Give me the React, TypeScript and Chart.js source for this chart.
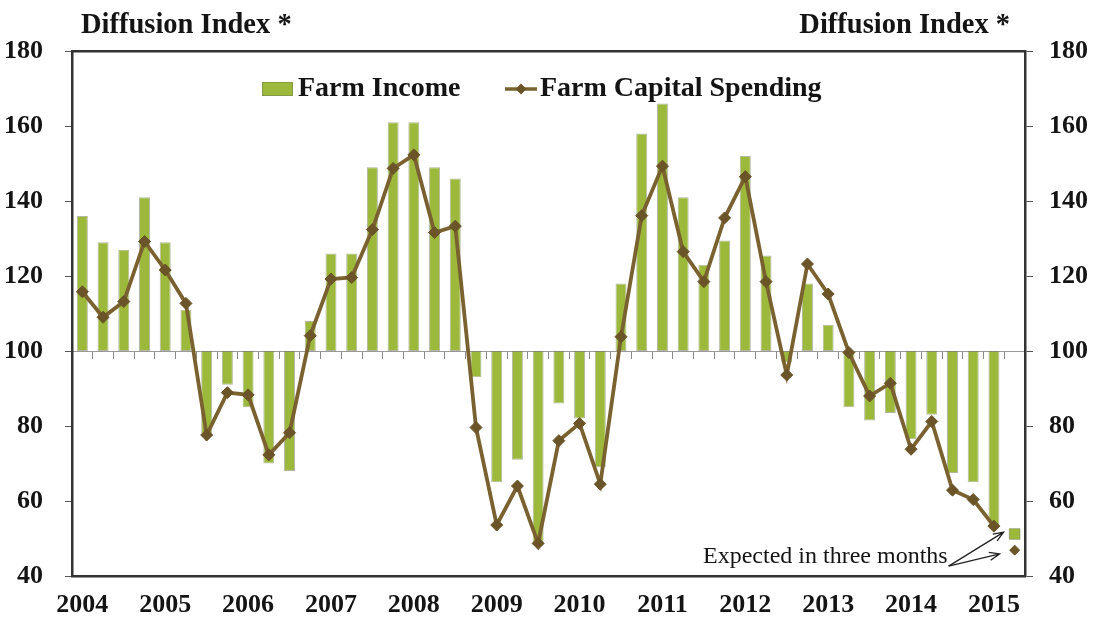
import React, { useEffect, useRef } from "react";
import { Chart, registerables } from "chart.js";

Chart.register(...registerables);

// ---- data ----
const years = ["2004", "2005", "2006", "2007", "2008", "2009", "2010", "2011", "2012", "2013", "2014", "2015"];
const quarters = ["Q1", "Q2", "Q3", "Q4"];
const expectedLabel = "Expected";

// Farm income diffusion index, 2004 Q1 .. 2015 Q1
const farmIncome = [
  136, 129, 127, 141,
  129, 111, 78, 91,
  85, 70, 68, 108,
  126, 126, 149, 161,
  161, 149, 146, 93,
  65, 71, 49, 86,
  82, 69, 118, 158,
  166, 141, 123, 129.5,
  152, 125.5, 97, 118,
  107, 85, 81.5, 83.5,
  76.5, 83, 67.5, 65,
  53.5,
];

// Farm capital spending diffusion index, 2004 Q1 .. 2015 Q1
const farmCapital = [
  115.8, 109, 113.2, 129.2,
  121.6, 112.7, 77.6, 88.9,
  88.3, 72.3, 78.2, 104.1,
  119.2, 119.6, 132.4, 148.7,
  152.3, 131.6, 133.3, 79.6,
  53.6, 64, 48.7, 76.1,
  80.7, 64.5, 103.8, 136.1,
  149.3, 126.5, 118.5, 135.5,
  146.5, 118.5, 93.6, 123.2,
  115.2, 99.6, 88, 91.4,
  73.8, 81.2, 62.9, 60.4,
  53.3,
];

// expected in three months
const expectedIncome = 51.2;
const expectedCapital = 46.9;

const baseline = 100;
const yMin = 40;
const yMax = 180;
const yStep = 20;

const headerText = "Diffusion Index *";
const incomeName = "Farm Income";
const capitalName = "Farm Capital Spending";
const noteText = "Expected in three months";

// ---- styling ----
const GREEN = "#9cb93c";
const GREEN_EDGE = "rgba(115,125,80,0.55)";
const BROWN = "#7a6230";
const BROWN_DARK = "#6a5428";
const SERIF = "'Liberation Serif', 'Times New Roman', serif";
const INK = "#141414";

const labels: string[] = [];
years.forEach((y) => {
  quarters.forEach((q) => {
    if (labels.length < farmIncome.length) labels.push(`${y} ${q}`);
  });
});
labels.push(expectedLabel);

const n = labels.length;
const barData = labels.map((_, i) => (i < farmIncome.length ? [baseline, farmIncome[i]] : null));
const lineData = labels.map((_, i) => (i < farmCapital.length ? farmCapital[i] : null));
const expIncomeData = labels.map((_, i) => (i === n - 1 ? expectedIncome : null));
const expCapitalData = labels.map((_, i) => (i === n - 1 ? expectedCapital : null));

function drawDiamond(ctx: CanvasRenderingContext2D, x: number, y: number, r: number) {
  ctx.beginPath();
  ctx.moveTo(x, y - r);
  ctx.lineTo(x + r, y);
  ctx.lineTo(x, y + r);
  ctx.lineTo(x - r, y);
  ctx.closePath();
  ctx.fill();
}

function drawArrow(ctx: CanvasRenderingContext2D, x0: number, y0: number, x1: number, y1: number) {
  ctx.beginPath();
  ctx.moveTo(x0, y0);
  ctx.lineTo(x1, y1);
  const a = Math.atan2(y1 - y0, x1 - x0);
  const h = 11;
  const s = 0.38;
  ctx.moveTo(x1 - h * Math.cos(a - s), y1 - h * Math.sin(a - s));
  ctx.lineTo(x1, y1);
  ctx.lineTo(x1 - h * Math.cos(a + s), y1 - h * Math.sin(a + s));
  ctx.stroke();
}

const decorPlugin = {
  id: "decor",
  afterDraw(chart: any) {
    const ctx: CanvasRenderingContext2D = chart.ctx;
    const { left, right, top } = chart.chartArea;
    const xs = chart.scales.x;
    const ys = chart.scales.y;
    ctx.save();

    // headers
    ctx.fillStyle = INK;
    ctx.font = `bold 28.5px ${SERIF}`;
    ctx.textBaseline = "alphabetic";
    ctx.textAlign = "left";
    ctx.fillText(headerText, left + 9, 33);
    ctx.textAlign = "right";
    ctx.fillText(headerText, right - 15, 33);

    // legend
    const ly = top + 37;
    const bx = left + 190;
    ctx.fillStyle = GREEN;
    ctx.fillRect(bx, ly - 6, 31, 14);
    ctx.strokeStyle = GREEN_EDGE;
    ctx.lineWidth = 1;
    ctx.strokeRect(bx + 0.5, ly - 5.5, 30, 13);
    ctx.fillStyle = INK;
    ctx.font = `bold 28px ${SERIF}`;
    ctx.textAlign = "left";
    ctx.textBaseline = "alphabetic";
    ctx.fillText(incomeName, bx + 36, ly + 8);

    const lx = left + 433;
    ctx.strokeStyle = BROWN;
    ctx.lineWidth = 3.5;
    ctx.beginPath();
    ctx.moveTo(lx, ly + 1);
    ctx.lineTo(lx + 32, ly + 1);
    ctx.stroke();
    ctx.fillStyle = BROWN_DARK;
    drawDiamond(ctx, lx + 16, ly + 1, 5.5);
    ctx.fillStyle = INK;
    ctx.fillText(capitalName, lx + 35, ly + 8);

    // annotation
    const xe = xs.getPixelForValue(n - 1);
    ctx.font = `24px ${SERIF}`;
    ctx.textAlign = "right";
    ctx.fillStyle = INK;
    ctx.fillText(noteText, xe - 67, ys.getPixelForValue(expectedCapital) + 13);
    ctx.strokeStyle = "#222";
    ctx.lineWidth = 1.3;
    const sx = xe - 66;
    const sy = ys.getPixelForValue(expectedCapital) + 16;
    drawArrow(ctx, sx, sy, xe - 11, ys.getPixelForValue(expectedIncome + 0.5));
    drawArrow(ctx, sx, sy, xe - 15, ys.getPixelForValue(expectedCapital - 1));

    ctx.restore();
  },
};

export default function App() {
  const ref = useRef<HTMLCanvasElement | null>(null);

  useEffect(() => {
    document.body.style.margin = "0";
    const canvas = ref.current;
    if (!canvas) return;
    const tickFont = { family: SERIF, size: 26, weight: "bold" as const };
    const chart = new Chart(canvas, {
      type: "bar",
      data: {
        labels,
        datasets: [
          {
            type: "line" as const,
            label: capitalName,
            data: lineData,
            borderColor: BROWN,
            borderWidth: 3.8,
            pointStyle: "rectRot",
            pointRadius: 6,
            pointBackgroundColor: BROWN_DARK,
            pointBorderColor: BROWN_DARK,
            pointBorderWidth: 1,
            tension: 0,
            spanGaps: false,
            order: 0,
          },
          {
            type: "line" as const,
            label: "Expected capital",
            data: expCapitalData,
            showLine: false,
            pointStyle: "rectRot",
            pointRadius: 5,
            pointBackgroundColor: BROWN_DARK,
            pointBorderColor: BROWN_DARK,
            order: 0,
          },
          {
            type: "line" as const,
            label: "Expected income",
            data: expIncomeData,
            showLine: false,
            pointStyle: "rect",
            pointRadius: 7.5,
            pointBackgroundColor: GREEN,
            pointBorderColor: GREEN_EDGE,
            pointBorderWidth: 1,
            order: 0,
          },
          {
            type: "bar" as const,
            label: incomeName,
            data: barData as any,
            backgroundColor: GREEN,
            borderColor: GREEN_EDGE,
            borderWidth: 1,
            borderSkipped: false,
            barPercentage: 0.53,
            categoryPercentage: 1,
            order: 1,
          },
        ],
      },
      options: {
        responsive: false,
        animation: false,
        layout: { padding: 0 },
        plugins: {
          legend: { display: false },
          tooltip: { enabled: false },
          title: { display: false },
        },
        scales: {
          x: {
            type: "category",
            position: "bottom",
            offset: true,
            grid: { display: false, drawTicks: false, tickLength: 0 },
            border: { display: true, color: "#333", width: 2.5 },
            ticks: {
              autoSkip: false,
              maxRotation: 0,
              minRotation: 0,
              padding: 14,
              color: INK,
              font: tickFont,
              callback: (_v: any, i: number) =>
                i % 4 === 0 && i < farmIncome.length ? years[i / 4] : "",
            },
            afterFit: (s: any) => {
              s.height = 47;
            },
          },
          xTop: {
            type: "category",
            position: "top",
            offset: true,
            grid: { display: false, drawTicks: false, tickLength: 0 },
            border: { display: true, color: "#333", width: 2.5 },
            ticks: { display: false },
            afterFit: (s: any) => {
              s.height = 51;
            },
          },
          xBase: {
            type: "category",
            position: { y: baseline } as any,
            offset: true,
            grid: {
              display: true,
              offset: true,
              drawOnChartArea: false,
              drawTicks: true,
              tickLength: 7,
              color: "#8a8a8a",
              lineWidth: 1,
            },
            border: { display: true, color: "#9a9a9a", width: 1 },
            ticks: { display: false },
          },
          y: {
            position: "left",
            min: yMin,
            max: yMax,
            grid: {
              display: true,
              drawOnChartArea: false,
              drawTicks: true,
              tickLength: 7,
              color: "#555",
            },
            border: { display: true, color: "#333", width: 2.5 },
            ticks: { stepSize: yStep, padding: 22, color: INK, font: tickFont },
            afterFit: (s: any) => {
              s.width = 72;
            },
          },
          y2: {
            position: "right",
            min: yMin,
            max: yMax,
            grid: {
              display: true,
              drawOnChartArea: false,
              drawTicks: true,
              tickLength: 8,
              color: "#555",
            },
            border: { display: true, color: "#333", width: 2.5 },
            ticks: { stepSize: yStep, padding: 16, color: INK, font: tickFont },
            afterFit: (s: any) => {
              s.width = 71;
            },
          },
        },
      },
      plugins: [decorPlugin],
    });
    return () => chart.destroy();
  }, []);

  return (
    <div style={{ width: 1096, height: 623, background: "#fff" }}>
      <canvas ref={ref} width={1096} height={623} style={{ display: "block" }} />
    </div>
  );
}
